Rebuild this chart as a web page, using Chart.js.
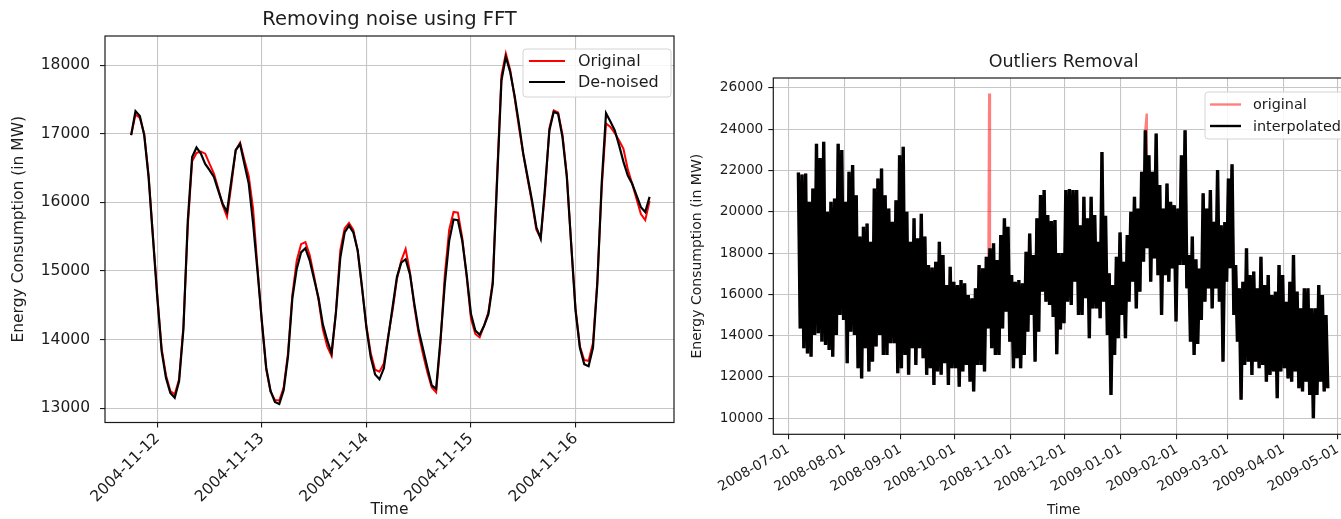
<!DOCTYPE html>
<html><head><meta charset="utf-8">
<script src="https://cdn.jsdelivr.net/npm/chart.js@4.4.1/dist/chart.umd.min.js"></script>
<style>
html,body{margin:0;padding:0;background:#fff;overflow:hidden;width:1341px;height:519px}
#c1{position:absolute;left:0;top:0}
#c2{position:absolute;left:680px;top:0}
</style></head><body>
<canvas id="c1" width="680" height="519"></canvas>
<canvas id="c2" width="680" height="519"></canvas>
<script>
// ---------- Chart 1: Removing noise using FFT (hourly, hours from 2004-11-12 00:00) ----------
const fftStartHour = -6;
const fftOriginal = [
16980,17280,17230,17000,16400,15520,14650,13870,13480,13250,13200,13420,14200,15650,16600,16720,
16740,16710,16560,16420,16200,15960,15790,16250,16760,16870,16620,16380,15900,15050,14250,13560,
13240,13120,13110,13300,13800,14650,15150,15390,15420,15230,14920,14580,14150,13900,13760,14400,
15300,15620,15700,15600,15290,14740,14200,13800,13560,13530,13650,14050,14420,14880,15150,15320,
14980,14480,14080,13780,13520,13300,13230,13950,14950,15600,15860,15850,15480,14920,14300,14080,
14030,14200,14400,14850,16400,17850,18170,17930,17530,17100,16700,16340,16000,15600,15480,16150,
17080,17340,17310,16990,16400,15400,14450,13900,13700,13690,13950,14850,16200,17150,17100,17010,
16900,16780,16480,16270,16050,15830,15740,16020];
const fftDenoised = [
16980,17330,17260,16980,16370,15490,14610,13830,13440,13220,13150,13390,14150,15730,16660,16800,
16710,16560,16470,16370,16170,15980,15860,16320,16760,16850,16560,16270,15690,15000,14270,13590,
13250,13090,13060,13260,13750,14600,15030,15270,15330,15150,14880,14610,14220,13990,13800,14390,
15190,15560,15660,15560,15300,14760,14170,13740,13490,13420,13580,14030,14470,14910,15120,15170,
14950,14520,14130,13860,13590,13330,13280,14000,14810,15440,15750,15740,15440,14950,14370,14130,
14070,14200,14370,14810,16320,17780,18120,17900,17560,17150,16710,16370,16030,15640,15470,16220,
17050,17320,17290,16950,16370,15390,14420,13880,13640,13610,13880,14810,16270,17300,17180,17050,
16830,16590,16390,16270,16100,15930,15860,16080];
const fftTickHours = [0, 24, 48, 72, 96];
const fftTickLabels = ['2004-11-12', '2004-11-13', '2004-11-14', '2004-11-15', '2004-11-16'];
const fftYTicks = [13000, 14000, 15000, 16000, 17000, 18000];

// ---------- Chart 2: Outliers Removal (days from 2008-07-01) ----------
const sampleStartDay = 5.5;   // first daily peak sample
const sampleStepDays = 2;
const dailyPeaks = [
21900,21800,21850,20480,21130,23300,22600,23390,20000,20480,20640,23300,22990,20480,21935,22260,
20800,18800,19270,19430,18550,21130,21610,22100,20800,20160,19520,20560,22740,23150,20000,18550,
19680,18710,19900,18800,17420,17300,17580,18550,17900,16450,17340,16610,16450,16690,16530,15970,
15810,16290,17420,17260,17820,18230,18470,17660,18870,19680,19270,16930,16610,16690,16530,18060,
18950,17900,19680,20810,21050,19840,19550,19600,18000,18000,21050,21100,21050,21050,19350,20730,
19680,20730,19840,18550,22900,19800,17020,16450,17820,19000,17580,18870,20000,20730,20160,21940,
23950,22740,21940,23790,21290,20160,21370,20480,20320,20160,22740,23950,17900,18800,17700,17250,
20900,20160,21050,19520,22020,19350,19500,21610,22300,17420,16290,16610,18230,16930,17100,16290,
17820,16450,16930,15970,16130,17420,16930,15640,16610,17900,16130,15320,16290,16290,15320,15320,
16450,15970,15000];
const dailyTroughs = [
14350,13390,13140,12980,14030,14110,13710,13550,13310,12980,14030,15000,14760,12660,14190,14030,
12420,11930,13390,12260,12740,13470,14030,13060,13060,13630,13630,12180,12420,13060,12100,13390,
12580,13390,12900,12100,12420,11610,12260,12100,12660,11610,12420,12420,11530,12260,12580,11770,
11290,12580,12580,12260,14350,13390,13060,13060,14350,15160,13710,12420,12900,12420,13060,14190,
15000,12740,14190,16130,15640,15480,14900,13100,14300,14600,15640,15480,16610,15000,15000,15810,
13870,15320,15320,14840,15640,14030,11130,13060,13870,15000,13870,15640,16610,15320,16130,17580,
18230,16610,17740,16930,15000,16930,16610,17260,14680,17420,17420,16290,13710,13060,13600,14760,
15640,16290,15320,16290,15640,12740,16610,17260,15000,13710,10890,12580,12740,12100,12740,12420,
12580,11770,12100,12260,10970,12260,12420,11930,11770,12260,11450,11290,11770,11130,10000,11130,
11770,11290,11450];
const outlierDays = [111.1, 198.3];
const outlierValues = [25730, 24760];
const monthTickDays = [0, 31, 62, 92, 123, 153, 184, 215, 243, 274, 304];
const monthTickLabels = ['2008-07-01','2008-08-01','2008-09-01','2008-10-01','2008-11-01','2008-12-01',
  '2009-01-01','2009-02-01','2009-03-01','2009-04-01','2009-05-01'];
const outlierYTicks = [10000, 12000, 14000, 16000, 18000, 20000, 22000, 24000, 26000];

// ---------- build tables ----------
const fftOrigPts = fftOriginal.map((v, i) => ({x: fftStartHour + i, y: v}));
const fftDenPts = fftDenoised.map((v, i) => ({x: fftStartHour + i, y: v}));

const interpPts = [];
dailyPeaks.forEach((p, i) => {
  interpPts.push({x: sampleStartDay + i * sampleStepDays, y: p});
  if (i < dailyTroughs.length) interpPts.push({x: sampleStartDay + i * sampleStepDays + sampleStepDays / 2, y: dailyTroughs[i]});
});
const origPts = interpPts.slice();
outlierDays.forEach((d, j) => origPts.push({x: d, y: outlierValues[j]}));
origPts.sort((a, b) => a.x - b.x);

const FONT = "'DejaVu Sans', sans-serif";
const TXT = '#1c1c1c';
const GRID = '#c6c6c6';

const deco = {
  id: 'deco',
  afterDraw(chart, args, o) {
    const ctx = chart.ctx, a = chart.chartArea;
    ctx.save();
    ctx.strokeStyle = '#1a1a1a'; ctx.lineWidth = 1.2;
    ctx.strokeRect(a.left, a.top, a.right - a.left, a.bottom - a.top);
    ctx.fillStyle = TXT; ctx.font = o.titleFont; ctx.textAlign = 'center'; ctx.textBaseline = 'middle';
    ctx.fillText(o.title, (a.left + a.right) / 2, o.titleY);
    const L = o.legend;
    ctx.beginPath();
    ctx.roundRect(L.x, L.y, L.w, L.h, 3);
    ctx.fillStyle = 'rgba(255,255,255,0.85)'; ctx.fill();
    ctx.strokeStyle = '#d4d4d4'; ctx.lineWidth = 1; ctx.stroke();
    chart.data.datasets.forEach((ds, i) => {
      const y = L.y + L.row0 + i * L.rowH;
      ctx.strokeStyle = ds.borderColor; ctx.lineWidth = L.lw;
      ctx.beginPath(); ctx.moveTo(L.x + L.l0, y); ctx.lineTo(L.x + L.l1, y); ctx.stroke();
      ctx.fillStyle = TXT; ctx.font = L.font; ctx.textAlign = 'left'; ctx.textBaseline = 'middle';
      ctx.fillText(ds.label, L.x + L.tx, y + 1);
    });
    ctx.restore();
  }
};

function gridOpts() { return {color: GRID, lineWidth: 1.1, tickColor: '#1a1a1a', tickLength: 5, drawTicks: true}; }

new Chart(document.getElementById('c1'), {
  type: 'line',
  data: {datasets: [
    {label: 'Original', data: fftOrigPts, borderColor: '#ff0000', borderWidth: 2, pointRadius: 0, tension: 0, order: 2},
    {label: 'De-noised', data: fftDenPts, borderColor: '#000000', borderWidth: 2.2, pointRadius: 0, tension: 0, order: 1}
  ]},
  options: {
    responsive: false, animation: false, devicePixelRatio: 1,
    layout: {padding: {top: 36, right: 6, bottom: 0, left: 0}},
    plugins: {legend: {display: false}, tooltip: {enabled: false},
      deco: {title: 'Removing noise using FFT', titleFont: '19.5px ' + FONT, titleY: 20,
        legend: {x: 523, y: 49, w: 148, h: 48, row0: 12, rowH: 21, l0: 6, l1: 42, tx: 55, lw: 2.2, font: '16px ' + FONT}}},
    scales: {
      x: {type: 'linear', min: -12, max: 118.6,
        afterBuildTicks: s => { s.ticks = fftTickHours.map(v => ({value: v})); },
        afterFit: s => { s.height = 96.5; },
        grid: gridOpts(), border: {display: false},
        ticks: {minRotation: 45, maxRotation: 45, autoSkip: false, padding: 2, color: TXT, font: {family: FONT, size: 15.5},
          callback: v => fftTickLabels[fftTickHours.indexOf(v)]},
        title: {display: true, text: 'Time', color: TXT, font: {family: FONT, size: 15.5}, padding: {top: 0, bottom: 0}}
      },
      y: {type: 'linear', min: 12790, max: 18425,
        afterBuildTicks: s => { s.ticks = fftYTicks.map(v => ({value: v})); },
        afterFit: s => { s.width = 105; },
        grid: gridOpts(), border: {display: false},
        ticks: {padding: 10, color: TXT, font: {family: FONT, size: 15.5}, callback: v => String(v)},
        title: {display: true, text: 'Energy Consumption (in MW)', color: TXT, font: {family: FONT, size: 15.5}, padding: {top: 10, bottom: 0}}
      }
    }
  },
  plugins: [deco]
});

new Chart(document.getElementById('c2'), {
  type: 'line',
  data: {datasets: [
    {label: 'original', data: origPts, borderColor: 'rgba(255,0,0,0.5)', borderWidth: 2.4, pointRadius: 0, tension: 0, order: 2},
    {label: 'interpolated', data: interpPts, borderColor: '#000000', borderWidth: 3.4, pointRadius: 0, tension: 0, order: 1}
  ]},
  options: {
    responsive: false, animation: false, devicePixelRatio: 1,
    layout: {padding: {top: 78, right: 6, bottom: 0, left: 0}},
    plugins: {legend: {display: false}, tooltip: {enabled: false},
      deco: {title: 'Outliers Removal', titleFont: '17.5px ' + FONT, titleY: 62,
        legend: {x: 525, y: 92, w: 160, h: 47, row0: 12.5, rowH: 21.5, l0: 5, l1: 36, tx: 48, lw: 2.4, font: '14.4px ' + FONT}}},
    scales: {
      x: {type: 'linear', min: -8.4, max: 313,
        afterBuildTicks: s => { s.ticks = monthTickDays.map(v => ({value: v})); },
        afterFit: s => { s.height = 84.7; },
        grid: gridOpts(), border: {display: false},
        ticks: {minRotation: 30, maxRotation: 30, autoSkip: false, padding: 2, color: TXT, font: {family: FONT, size: 13.7},
          callback: v => monthTickLabels[monthTickDays.indexOf(v)]},
        title: {display: true, text: 'Time', color: TXT, font: {family: FONT, size: 13.7}, padding: {top: 0, bottom: 0}}
      },
      y: {type: 'linear', min: 9220, max: 26480,
        afterBuildTicks: s => { s.ticks = outlierYTicks.map(v => ({value: v})); },
        afterFit: s => { s.width = 93.3; },
        grid: gridOpts(), border: {display: false},
        ticks: {padding: 5, color: TXT, font: {family: FONT, size: 13.7}, callback: v => String(v)},
        title: {display: true, text: 'Energy Consumption (in MW)', color: TXT, font: {family: FONT, size: 14}, padding: {top: 9, bottom: 0}}
      }
    }
  },
  plugins: [deco]
});
</script>
</body></html>
